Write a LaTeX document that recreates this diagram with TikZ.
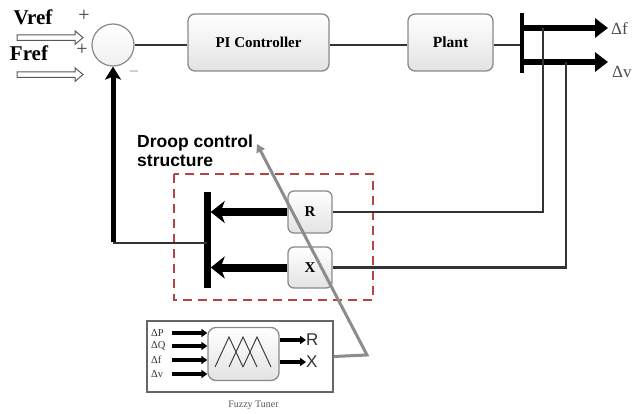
\documentclass[tikz,border=0pt]{standalone}
\usepackage{fontspec}
\setmainfont{Liberation Serif}
\setsansfont{Liberation Sans}
\usetikzlibrary{arrows.meta,calc}
\definecolor{wirec}{HTML}{333333}
\definecolor{boxc}{HTML}{8A8A8A}
\definecolor{dashc}{HTML}{B54545}
\definecolor{greyarr}{HTML}{8C8C8C}
\begin{document}
\begin{tikzpicture}[x=1pt,y=-1pt,
  blockbox/.style={draw=boxc, line width=1.3pt, rounded corners=7pt, top color=white, bottom color=black!11, inner sep=0pt},
  wire/.style={draw=wirec, line width=2.1pt},
  bigarrow/.style={draw=black, line width=6pt, -{Triangle[length=13pt,width=19pt]}},
  droopar/.style={draw=black, line width=8pt, -{Stealth[length=14pt,width=22pt,inset=4pt]}},
  smallar/.style={draw=black, line width=3.2pt, -{Triangle[length=6pt,width=8pt]}},
  hollowar/.style={draw=black!65, fill=white, line width=1pt, line join=miter},
  lbl/.style={inner sep=0pt}
]
\useasboundingbox[fill=white] (0,0) rectangle (636,414);

% reference inputs
\node[lbl, font=\bfseries\fontsize{21}{21}\selectfont] (vref) at (33,17) {Vref};
\node[lbl, font=\bfseries\fontsize{21}{21}\selectfont] (fref) at (29,53) {Fref};
\coordinate (va) at (17,32);
\coordinate (fa) at (17,69);
\foreach \c in {va,fa}{
  \draw[hollowar] ([yshift=-2.8pt]\c) -- ++(58,0) -- ++(0,-4) -- ++(8,6.8) -- ++(-8,6.8) -- ++(0,-4) -- ++(-58,0) -- cycle;
}
\node[lbl, font=\fontsize{20}{20}\selectfont, text=black!75] (p1) at (84,16) {+};
\node[lbl, font=\fontsize{20}{20}\selectfont, text=black!75] (p2) at (82,50) {+};
\node[lbl, font=\fontsize{18}{18}\selectfont, text=black!40] (m1) at (134,74) {\textminus};

% forward path
\node[draw=boxc, line width=1.2pt, circle, minimum size=42pt, inner sep=0pt, top color=white, bottom color=black!6] (sum) at (113,45) {};
\node[blockbox, minimum width=141pt, minimum height=57pt, font=\bfseries\fontsize{15}{15}\selectfont] (pi) at (258.5,42.5) {PI Controller};
\node[blockbox, minimum width=85pt, minimum height=57pt, font=\bfseries\fontsize{15.5}{15.5}\selectfont] (plant) at (450.5,42.5) {Plant};
\node[fill=black, minimum width=3.5pt, minimum height=60pt, inner sep=0pt] (obar) at (522,43) {};
\draw[wire] (sum.east) -- (pi.west |- sum.east);
\draw[wire] (pi.east |- sum.east) -- (plant.west |- sum.east);
\draw[wire] (plant.east |- sum.east) -- (obar.west |- sum.east);

% outputs
\coordinate (dfe) at (608,28);
\coordinate (dve) at (608,62);
\draw[bigarrow] (obar.center |- dfe) -- (dfe);
\draw[bigarrow] (obar.center |- dve) -- (dve);
\node[lbl, anchor=west, font=\fontsize{17}{17}\selectfont, text=black!70] (dflab) at (611,29) {Δf};
\node[lbl, anchor=west, font=\fontsize{17}{17}\selectfont, text=black!70] (dvlab) at (612,72) {Δv};

% droop control structure
\draw[dashc, line width=1.6pt, dash pattern=on 9pt off 6pt] (174,174) rectangle (373,300);
\node[blockbox, minimum width=44pt, minimum height=42pt, rounded corners=6pt, font=\bfseries\fontsize{15}{15}\selectfont] (R) at (310,212) {R};
\node[blockbox, minimum width=44pt, minimum height=41pt, rounded corners=6pt, font=\bfseries\fontsize{15}{15}\selectfont] (X) at (310,267.5) {X};
\node[fill=black, minimum width=7pt, minimum height=96pt, inner sep=0pt] (dbar) at (207,240) {};
\draw[droopar] (R.west) -- (R.west -| dbar.east);
\draw[droopar] (X.west) -- (X.west -| dbar.east);
\coordinate (tapf) at (543,28);
\coordinate (tapv) at (566,62);
\draw[wire] (tapf) |- (R.east);
\draw[wire] (tapv) |- (X.east);

% feedback
\coordinate (fbc) at (113,243);
\draw[wire] (dbar.center |- fbc) -- (fbc);
\draw[draw=black, line width=5pt, -{Stealth[length=13pt,width=16pt,inset=3pt]}] ([yshift=1.5pt]fbc) -- (sum.south);

\node[lbl, anchor=base west, font=\sffamily\bfseries\fontsize{17.5}{17.5}\selectfont] (dr1) at (137,147) {Droop control};
\node[lbl, anchor=base west, font=\sffamily\bfseries\fontsize{17.5}{17.5}\selectfont] (dr2) at (137,166) {structure};

% fuzzy tuner
\node[draw=black!60, line width=1.1pt, fill=white, minimum width=186pt, minimum height=71pt, inner sep=0pt] (fuzzy) at (240,356.5) {};
\node[blockbox, minimum width=71pt, minimum height=53pt, rounded corners=8pt] (fin) at (243.5,354) {};
\draw[black!75, line width=1pt]
  (215,367) -- (229,337) -- (243,367)
  (229,367) -- (243,337) -- (257,367)
  (243,367) -- (257,337) -- (271,367);
\foreach \yy/\tt [count=\i] in {333/ΔP,346/ΔQ,360/Δf,374/Δv}{
  \coordinate (in\i) at (172,\yy);
  \draw[smallar] (in\i) -- (in\i -| fin.west);
  \node[lbl, anchor=west, font=\fontsize{10.5}{10.5}\selectfont, text=black!80] (inl\i) at (151,\yy) {\tt};
}
\coordinate (ro) at (306,340);
\coordinate (xo) at (306,362);
\draw[smallar] (fin.east |- ro) -- (ro);
\draw[smallar] (fin.east |- xo) -- (xo);
\node[lbl, anchor=west, font=\sffamily\fontsize{17}{17}\selectfont, text=black!80] (rl) at (306,340) {R};
\node[lbl, anchor=west, font=\sffamily\fontsize{17}{17}\selectfont, text=black!80] (xl) at (306,362) {X};
\node[lbl, font=\fontsize{10}{10}\selectfont, text=black!65] (ftl) at (253.5,405) {Fuzzy Tuner};

% grey tuning arrow
\coordinate (gk) at (367,355);
\coordinate (gtip) at (257,144);
\draw[greyarr, line width=3pt, line join=miter, -{Triangle[length=8pt,width=9pt]}] (fuzzy.east) -- (gk) -- (gtip);
\end{tikzpicture}
\end{document}
